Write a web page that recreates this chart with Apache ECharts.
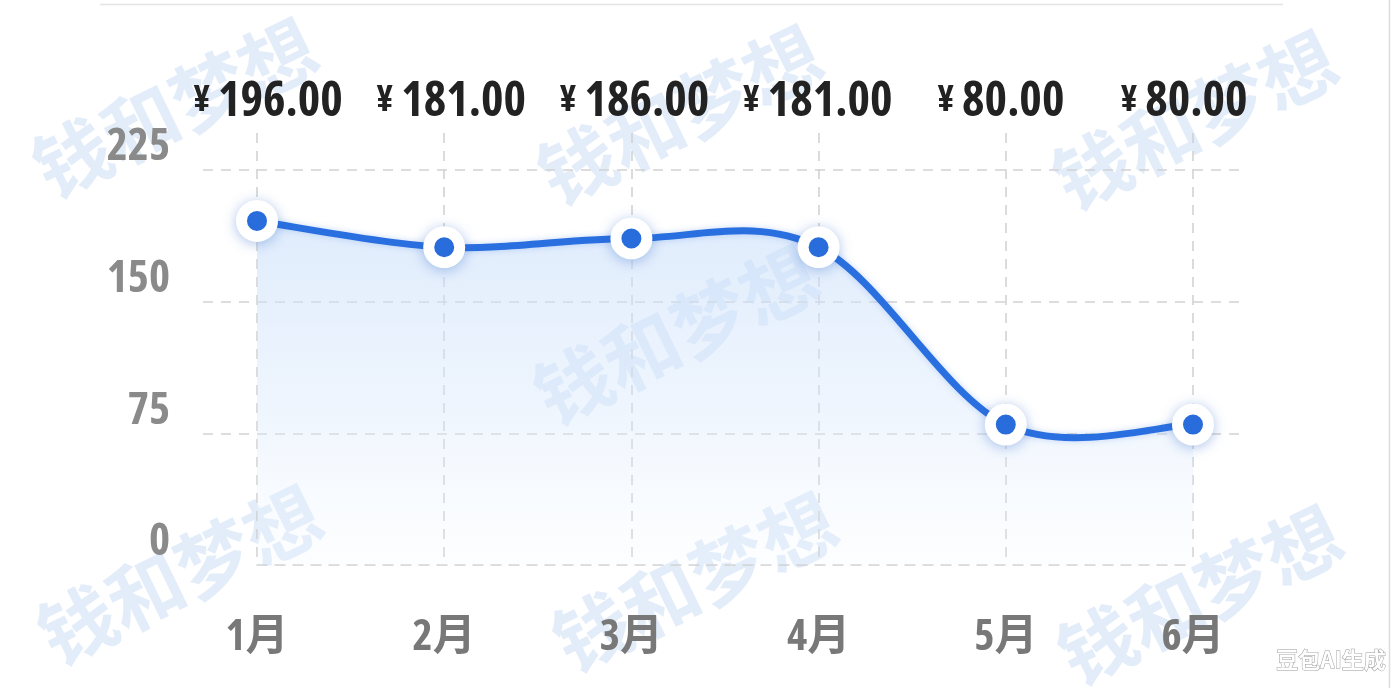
<!DOCTYPE html>
<html>
<head>
<meta charset="utf-8">
<script src="https://cdn.jsdelivr.net/npm/echarts@6/dist/echarts.min.js"></script>
<style>
html,body{margin:0;padding:0;background:#fff;}
#c{width:1392px;height:688px;}
</style>
</head>
<body>
<div id="c"></div>
<script>
var months = ['1月', '2月', '3月', '4月', '5月', '6月'];
var prices = [196, 181, 186, 181, 80, 80];
var yTicks = [0, 75, 150, 225];
var watermarkText = '钱和梦想';
var badgeText = '豆包AI生成';

// ---- pick the narrowest installed bold face for the numbers ----
var mctx = document.createElement('canvas').getContext('2d');
var fontCands = [
  {w: 'bold', f: "'Liberation Sans Narrow'"},
  {w: 'bold', f: "'DejaVu Sans Condensed'"},
  {w: 'bold condensed', f: "'DejaVu Sans'"},
  {w: 'bold condensed', f: "'Noto Sans'"},
  {w: 'bold condensed', f: "'Open Sans'"},
  {w: 'bold', f: "Roboto"},
  {w: 'bold', f: "Lato"}
];
var best = null, bestW = Infinity;
fontCands.forEach(function (c) {
  mctx.font = '100px monospace';
  mctx.font = c.w + ' 100px ' + c.f + ', monospace';
  var w = mctx.measureText('196.00').width;
  if (w < bestW) { bestW = w; best = c; }
});
var perPx = bestW / 100;
var NUM_WEIGHT = best.w;
var NUM_FONT = best.f + ", 'Noto Sans CJK SC', sans-serif";
var topSize = Math.min(52, Math.round(126 / perPx));
mctx.font = '100px monospace';
mctx.font = best.w + ' 100px ' + best.f + ', monospace';
var w225 = mctx.measureText('225').width / 100;
var ySize = Math.min(48, Math.round(63 / w225));
var xSize = Math.round(ySize * 44 / 46);

var BLUE = '#2a6fe0';
var zeroY = 565, topTickY = 170, vTop = 133;
var yMax = yTicks[yTicks.length - 1];
var extendedMax = yMax * (zeroY - vTop) / (zeroY - topTickY);

var wmPos = [[175, 108], [680, 115], [1195, 120], [676, 335], [180, 575], [695, 582], [1200, 595]];
var graphics = wmPos.map(function (p) {
  return {
    type: 'text', x: p[0], y: p[1], rotation: 26 * Math.PI / 180, z: 0,
    style: {
      x: 0, y: 0, text: watermarkText, align: 'center', verticalAlign: 'middle',
      font: "bold 76px 'Noto Sans CJK SC', sans-serif",
      fill: 'rgba(178,204,240,0.36)'
    }
  };
});
graphics.push({type: 'line', shape: {x1: 100, y1: 4.5, x2: 1283, y2: 4.5}, style: {stroke: '#e3e3e3', lineWidth: 1.5}, z: 0});
graphics.push({type: 'line', shape: {x1: 1389.5, y1: 0, x2: 1389.5, y2: 688}, style: {stroke: '#dcdcdc', lineWidth: 1.5}, z: 0});
graphics.push({
  type: 'text', x: 1331, y: 660, z: 10,
  style: {
    text: badgeText, align: 'center', verticalAlign: 'middle',
    font: "bold 22px 'Noto Sans CJK SC', sans-serif",
    fill: '#ffffff', stroke: '#9a9a9a', lineWidth: 1
  }
});

// Catmull-Rom curve through the projected data points
function curvePath(pts) {
  var d = 'M' + pts[0][0] + ' ' + pts[0][1];
  for (var i = 0; i < pts.length - 1; i++) {
    var p0 = pts[Math.max(0, i - 1)], p1 = pts[i], p2 = pts[i + 1], p3 = pts[Math.min(pts.length - 1, i + 2)];
    var c1x = p1[0] + (p2[0] - p0[0]) / 6, c1y = p1[1] + (p2[1] - p0[1]) / 6;
    var c2x = p2[0] - (p3[0] - p1[0]) / 6, c2y = p2[1] - (p3[1] - p1[1]) / 6;
    d += ' C' + c1x + ' ' + c1y + ' ' + c2x + ' ' + c2y + ' ' + p2[0] + ' ' + p2[1];
  }
  return d;
}

var seriesData = prices.map(function (v, i) { return [months[i], v]; });

var chart = echarts.init(document.getElementById('c'));
chart.setOption({
  backgroundColor: '#ffffff',
  animation: false,
  graphic: graphics,
  grid: [
    {left: 257, right: 199, top: vTop, bottom: 688 - zeroY},
    {left: 203, right: 153, top: topTickY, bottom: 688 - zeroY},
    {left: 268, right: 208, top: vTop, bottom: 688 - zeroY}
  ],
  xAxis: [
    {
      gridIndex: 0, type: 'category', data: months, boundaryGap: false,
      axisLine: {show: true, lineStyle: {color: '#cfcfcf', type: [10, 8], width: 1.5}},
      axisTick: {show: false},
      splitLine: {show: true, lineStyle: {color: '#cfcfcf', type: [10, 8], width: 1.5}},
      axisLabel: {interval: 0, margin: 51, fontSize: xSize, fontWeight: NUM_WEIGHT, color: '#787878', fontFamily: NUM_FONT}
    },
    {gridIndex: 1, type: 'category', data: months, show: false},
    {
      gridIndex: 2, type: 'category', data: months, boundaryGap: false, position: 'top',
      axisLine: {show: false}, axisTick: {show: false}, splitLine: {show: false},
      axisLabel: {
        interval: 0, margin: 7, hideOverlap: false,
        formatter: function (v, i) { return '{c|¥}{v|' + prices[i].toFixed(2) + '}'; },
        rich: {
          c: {fontSize: Math.round(topSize * 0.74), fontWeight: NUM_WEIGHT, color: '#222', fontFamily: NUM_FONT, padding: [0, 8, 2, 0]},
          v: {fontSize: topSize, fontWeight: NUM_WEIGHT, color: '#222', fontFamily: NUM_FONT}
        }
      }
    }
  ],
  yAxis: [
    {gridIndex: 0, type: 'value', min: 0, max: extendedMax, show: false},
    {
      gridIndex: 1, type: 'value', min: 0, max: yMax, interval: yTicks[1] - yTicks[0],
      axisLine: {show: false}, axisTick: {show: false},
      splitLine: {show: true, lineStyle: {color: ['transparent', '#d2d2d2', '#d2d2d2', '#d2d2d2'], type: [10, 8], width: 1.5}},
      axisLabel: {
        margin: 33, fontSize: ySize, fontWeight: NUM_WEIGHT, color: '#8a8a8a',
        fontFamily: NUM_FONT, verticalAlign: 'bottom', lineHeight: ySize
      }
    },
    {gridIndex: 2, type: 'value', min: 0, max: extendedMax, show: false}
  ],
  series: [
    {
      type: 'custom', xAxisIndex: 0, yAxisIndex: 0, data: seriesData, clip: false, z: 4,
      encode: {x: 0, y: 1},
      renderItem: function (params, api) {
        if (params.dataIndex !== 0) return null;
        var n = params.dataInsideLength;
        var pts = [];
        for (var j = 0; j < n; j++) pts.push(api.coord([api.value(0, j), api.value(1, j)]));
        var base = api.coord([api.value(0, 0), 0])[1];
        var line = curvePath(pts);
        var area = line + ' L' + pts[n - 1][0] + ' ' + base + ' L' + pts[0][0] + ' ' + base + ' Z';
        return {
          type: 'group',
          children: [
            {
              type: 'path', shape: {pathData: area},
              style: {
                fill: new echarts.graphic.LinearGradient(0, 0, 0, 1, [
                  {offset: 0, color: 'rgba(200,222,250,0.58)'},
                  {offset: 0.55, color: 'rgba(216,232,252,0.42)'},
                  {offset: 1, color: 'rgba(238,246,255,0.15)'}
                ]),
                stroke: null
              }
            },
            {
              type: 'path', shape: {pathData: line},
              style: {fill: null, stroke: BLUE, lineWidth: 7, lineCap: 'round', shadowColor: 'rgba(42,111,224,0.25)', shadowBlur: 6}
            }
          ]
        };
      }
    },
    {
      type: 'scatter', xAxisIndex: 0, yAxisIndex: 0, data: seriesData, z: 6,
      symbol: 'circle', symbolSize: 31,
      itemStyle: {
        color: BLUE, borderColor: '#ffffff', borderWidth: 11, opacity: 1,
        shadowColor: 'rgba(40,100,200,0.3)', shadowBlur: 14, shadowOffsetY: 2
      }
    }
  ]
});
</script>
</body>
</html>
